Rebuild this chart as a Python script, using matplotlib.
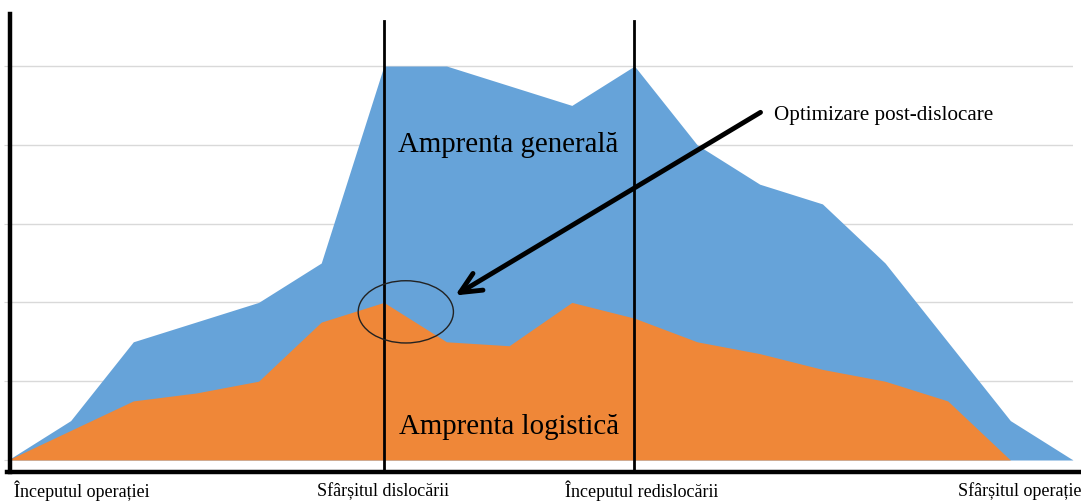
import matplotlib
matplotlib.use("Agg")
import matplotlib.pyplot as plt
from matplotlib.patches import Ellipse
from matplotlib.lines import Line2D

plt.rcParams['font.family'] = ['Liberation Serif', 'DejaVu Serif']

# Data
steps = list(range(18))
general = [0, 0.5, 1.5, 1.75, 2.0, 2.5, 5.0, 5.0, 4.75, 4.5, 5.0, 4.0, 3.5, 3.25, 2.5, 1.5, 0.5, 0]
logistic = [0, 0.375, 0.75, 0.85, 1.0, 1.75, 2.0, 1.5, 1.45, 2.0, 1.8, 1.5, 1.35, 1.15, 1.0, 0.75, 0, 0]
phase_labels = ["Începutul operației", "Sfârșitul dislocării", "Începutul redislocării", "Sfârșitul operației"]
phase_steps = [0, 6, 10, 17]
grid_levels = [0, 1, 2, 3, 4, 5]

W, H = 1081, 502
fig = plt.figure(figsize=(W / 100, H / 100), dpi=100)
ax = fig.add_axes([8 / W, (H - 461) / H, 1065 / W, 446 / H])
ax.set_xlim(0, 17)
ax.set_ylim(0, 5.66)

blue = '#66A3D9'
orange = '#EF8738'
ax.fill_between(steps, 0, general, color=blue, lw=0, zorder=2)
ax.fill_between(steps, 0, logistic, color=orange, lw=0, zorder=3)

ax.set_yticks(grid_levels)
ax.set_xticks([])
ax.grid(axis='y', color='#D9D9D9', lw=1, zorder=0)
ax.tick_params(axis='y', length=3, color='#D9D9D9', labelleft=False)
for s in ax.spines.values():
    s.set_visible(False)

# phase lines
for xs in phase_steps[1:3]:
    ax.plot([xs, xs], [-0.15, 5.57], color='black', lw=2, clip_on=False, zorder=5)

# axes lines (drawn as figure lines)
fig.add_artist(Line2D([7 / W, 1.0], [(H - 473) / H] * 2, color='black', lw=3.2))
fig.add_artist(Line2D([10 / W] * 2, [(H - 473) / H, (H - 15) / H], color='black', lw=3.2))

# texts
ax.text(7.98, 4.01, "Amprenta generală", fontsize=20.8, ha='center', va='center', zorder=6)
ax.text(8.0, 0.43, "Amprenta logistică", fontsize=20.8, ha='center', va='center', zorder=6)
ax.text(12.22, 4.39, "Optimizare post-dislocare", fontsize=15.2, ha='left', va='center', zorder=6)

# ellipse
ax.add_patch(Ellipse((6.35, 1.88), 1.52, 0.79, fill=False, ec='#222222', lw=1, zorder=6))

# arrow
ax.annotate("", xy=(7.1, 2.07), xytext=(12.05, 4.43),
            arrowprops=dict(arrowstyle='->,head_length=1.5,head_width=0.7', color='black', lw=3.5),
            zorder=7)

# bottom phase labels
fig.text(14 / W, (H - 491) / H, phase_labels[0], fontsize=13, ha='left', va='center')
fig.text(383 / W, (H - 491) / H, phase_labels[1], fontsize=13, ha='center', va='center')
fig.text(642 / W, (H - 491) / H, phase_labels[2], fontsize=13, ha='center', va='center')
fig.text(958 / W, (H - 491) / H, phase_labels[3], fontsize=13, ha='left', va='center')

fig.savefig('out.png', dpi=100)
